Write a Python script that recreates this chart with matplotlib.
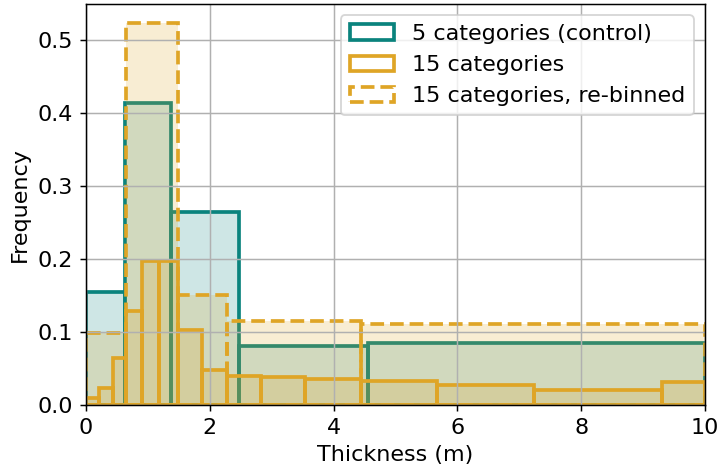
import numpy as np
import matplotlib
matplotlib.use("Agg")
import matplotlib.pyplot as plt

# Bin edges (m) and frequencies of each classification
control_edges = [0.0, 0.63, 1.38, 2.47, 4.55, 10.0]
control_freq = [0.155, 0.414, 0.265, 0.081, 0.085]

fine_edges = [0.0, 0.21, 0.43, 0.645, 0.91, 1.18, 1.49, 1.87, 2.28,
              2.83, 3.54, 4.45, 5.67, 7.24, 9.30, 10.0]
fine_freq = [0.009, 0.024, 0.065, 0.129, 0.197, 0.197, 0.103, 0.048,
             0.040, 0.039, 0.036, 0.033, 0.027, 0.020, 0.031]

rebinned_edges = [0.0, 0.645, 1.49, 2.28, 4.45, 10.0]
rebinned_freq = [0.098, 0.523, 0.151, 0.115, 0.111]

labels = ["5 categories (control)", "15 categories", "15 categories, re-binned"]

teal = "#0a837d"
gold = "#dfa526"

plt.rcParams["font.size"] = 12

dpi = 400 / 3
fig = plt.figure(figsize=(719 / dpi, 471 / dpi), dpi=dpi)
ax = fig.add_axes([0.1196, 0.140, 0.8610, 0.8515])

series = [
    (control_freq, control_edges, teal, "-", labels[0]),
    (fine_freq, fine_edges, gold, "-", labels[1]),
    (rebinned_freq, rebinned_edges, gold, "--", labels[2]),
]
for freq, edges, color, ls, lab in series:
    left = np.asarray(edges[:-1])
    width = np.diff(edges)
    ax.bar(left, freq, width=width, align="edge", color=color, alpha=0.2,
           linewidth=0)
    ax.bar(left, freq, width=width, align="edge", fill=False,
           edgecolor=color, linewidth=2, linestyle=ls, label=lab)

ax.set_xlim(0, 10)
ax.set_ylim(0, max(rebinned_freq) * 1.05)
ax.grid(True)
ax.set_xlabel("Thickness (m)")
ax.set_ylabel("Frequency")
ax.legend(loc="upper right")

fig.savefig("out.png", dpi=dpi)
